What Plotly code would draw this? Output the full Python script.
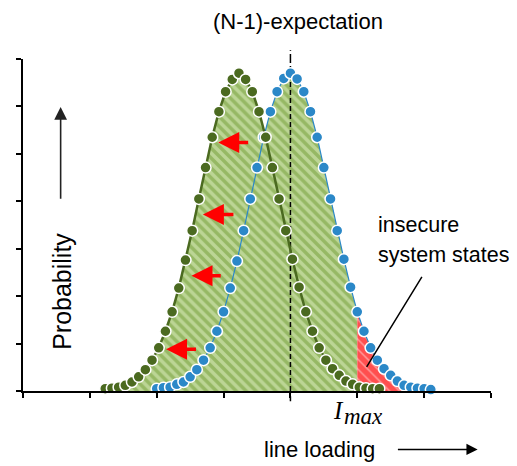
import numpy as np
import plotly.graph_objects as go

# ---- data ----
step = 0.1
blue_x0 = 2.0      # N-1 state distribution (start of samples)
green_x0 = 1.23    # shifted distribution (start of samples)
blue_y = [0.05, 0.07, 0.08, 0.14, 0.19, 0.30, 0.45, 0.65, 0.91, 1.26,
          1.67, 2.17, 2.74, 3.38, 4.05, 4.71, 5.35, 5.89, 6.31, 6.59,
          6.70,
          6.58, 6.31, 5.89, 5.35, 4.71, 4.05, 3.38, 2.78, 2.19, 1.67,
          1.26, 0.91, 0.65, 0.47, 0.33, 0.21, 0.12, 0.08, 0.06, 0.05, 0.03]
green_y = [0.05, 0.06, 0.08, 0.12, 0.19, 0.30, 0.45, 0.65, 0.91, 1.26,
           1.67, 2.17, 2.76, 3.38, 4.05, 4.71, 5.35, 5.89, 6.31, 6.57,
           6.70,
           6.57, 6.31, 5.89, 5.35, 4.71, 4.05, 3.38, 2.78, 2.19, 1.67,
           1.26, 0.91, 0.65, 0.47, 0.33, 0.21, 0.14, 0.08, 0.06, 0.05, 0.05]
i_max = 5.0
expectation = 4.0
x_ticks = [0, 1, 2, 3, 4, 5, 6, 7]
y_ticks = [0, 1, 2, 3, 4, 5, 6, 7]

blue_x = [round(blue_x0 + step * i, 3) for i in range(len(blue_y))]
green_x = [round(green_x0 + step * i, 3) for i in range(len(green_y))]


def clip(xs, ys, lo, hi):
    xs = np.array(xs, float)
    ys = np.array(ys, float)
    lo = max(lo, xs[0]); hi = min(hi, xs[-1])
    inner = (xs > lo) & (xs < hi)
    cx = np.concatenate([[lo], xs[inner], [hi]])
    cy = np.interp(cx, xs, ys)
    return cx, cy


GREEN_M = "#4b6a20"
BLUE_M = "#2b88c8"
green_pat = dict(shape="\\", bgcolor="#bcd595", fgcolor="#6f9c34", size=7, solidity=0.5)
red_pat = dict(shape="\\", bgcolor="#ff9f9f", fgcolor="#ff0000", size=7, solidity=0.8)

fig = go.Figure()

gx, gy = clip(green_x, green_y, -10, i_max)
fig.add_trace(go.Scatter(x=gx, y=gy, mode="lines", line=dict(width=0), fill="tozeroy",
                         fillpattern=green_pat, fillcolor="#bcd595", hoverinfo="skip"))
bx, by = clip(blue_x, blue_y, -10, i_max)
fig.add_trace(go.Scatter(x=bx, y=by, mode="lines", line=dict(width=0), fill="tozeroy",
                         fillpattern=green_pat, fillcolor="#bcd595", hoverinfo="skip"))
rx, ry = clip(blue_x, blue_y, i_max, 100)
fig.add_trace(go.Scatter(x=rx, y=ry, mode="lines", line=dict(width=0), fill="tozeroy",
                         fillpattern=red_pat, fillcolor="#ff0000", hoverinfo="skip"))

# expectation dashed line (inside plot)
fig.add_trace(go.Scatter(x=[expectation, expectation], y=[y_ticks[0], y_ticks[-1]], mode="lines",
                         line=dict(color="black", width=1.5, dash="5px,3px"), hoverinfo="skip"))

fig.add_trace(go.Scatter(x=blue_x, y=blue_y, mode="lines+markers",
                         line=dict(color=BLUE_M, width=1.2),
                         marker=dict(size=11, color=BLUE_M, line=dict(color="white", width=1.5)),
                         cliponaxis=False))
fig.add_trace(go.Scatter(x=green_x, y=green_y, mode="lines+markers",
                         line=dict(color=GREEN_M, width=2.5),
                         marker=dict(size=11, color=GREEN_M, line=dict(color="white", width=1.5)),
                         cliponaxis=False))

shapes = [
    dict(type="line", xref="x", yref="paper", x0=expectation, x1=expectation, y0=1.0, y1=1.026,
         line=dict(color="black", width=1.5, dash="5px,3px")),
    dict(type="line", xref="x", yref="paper", x0=expectation, x1=expectation, y0=-0.031, y1=0.0,
         line=dict(color="black", width=1.5, dash="5px,3px")),
]

FONT = "Liberation Sans, Arial, sans-serif"
SERIF = "Liberation Serif, Times New Roman, serif"
ann = []
# red shift arrows
for hx, tx, yy in [(2.92, 3.39, 5.24), (2.69, 3.17, 3.72), (2.52, 2.98, 2.43), (2.14, 2.61, 0.88)]:
    ann.append(dict(x=hx, y=yy, ax=tx, ay=yy, xref="x", yref="y", axref="x", ayref="y",
                    text="", showarrow=True, arrowhead=2, arrowsize=1.2, arrowwidth=3.5,
                    arrowcolor="#ff0000"))
# probability arrow
ann.append(dict(x=0.563, y=5.99, ax=0.563, ay=4.02, xref="x", yref="y", axref="x", ayref="y",
                text="", showarrow=True, arrowhead=2, arrowsize=1.6, arrowwidth=1.6,
                arrowcolor="#222222"))
ann.append(dict(x=0.59, y=2.1, xref="x", yref="y", text="Probability", showarrow=False,
                textangle=-90, yanchor="middle", font=dict(family=FONT, size=25, color="black")))
# line loading arrow + label (below the plot area)
ann.append(dict(x=6.80, y=-0.176, ax=5.585, ay=-0.176, xref="x", yref="y domain",
                axref="x", ayref="y domain",
                text="", showarrow=True, arrowhead=2, arrowsize=1.4, arrowwidth=1.6,
                arrowcolor="black"))
ann.append(dict(x=4.44, y=-0.176, xref="x", yref="y domain", text="line loading", showarrow=False,
                yanchor="middle", font=dict(family=FONT, size=22, color="black")))
# I_max
ann.append(dict(x=4.72, y=-0.058, xref="x", yref="y domain", text="<i>I</i>", showarrow=False,
                yanchor="middle", font=dict(family=SERIF, size=25, color="black")))
ann.append(dict(x=5.10, y=-0.076, xref="x", yref="y domain", text="<i>max</i>", showarrow=False,
                yanchor="middle", font=dict(family=SERIF, size=23, color="black")))
# title
ann.append(dict(x=4.11, y=1.113, xref="x", yref="paper", text="(N-1)-expectation", showarrow=False,
                yanchor="middle", font=dict(family=FONT, size=22, color="black")))
# insecure system states
ann.append(dict(x=5.28, y=3.49, xref="x", yref="y", text="insecure",
                showarrow=False, xanchor="left", yanchor="middle",
                font=dict(family=FONT, size=21.5, color="black")))
ann.append(dict(x=5.28, y=2.87, xref="x", yref="y", text="system states",
                showarrow=False, xanchor="left", yanchor="middle",
                font=dict(family=FONT, size=21.5, color="black")))
ann.append(dict(x=5.14, y=0.51, ax=5.98, ay=2.44, xref="x", yref="y", axref="x", ayref="y",
                text="", showarrow=True, arrowhead=0, arrowwidth=1.5, arrowcolor="black"))

# page has an 8px body margin: size figure so it fits the 517x466 window
fig.update_layout(
    width=509, height=458,
    margin=dict(l=10, r=26, t=51, b=75, pad=0),
    paper_bgcolor="white", plot_bgcolor="white",
    showlegend=False,
    shapes=shapes, annotations=ann,
    xaxis=dict(range=[x_ticks[0], x_ticks[-1]], tickvals=x_ticks, showticklabels=False,
               ticks="outside", ticklen=5, tickwidth=1.5, tickcolor="black",
               showline=True, linecolor="black", linewidth=1.5, showgrid=False, zeroline=False),
    yaxis=dict(range=[y_ticks[0], y_ticks[-1]], tickvals=y_ticks, showticklabels=False,
               ticks="outside", ticklen=5, tickwidth=1.5, tickcolor="black",
               showline=True, linecolor="black", linewidth=1.5, showgrid=False, zeroline=False),
)

fig.write_html("out.html")
